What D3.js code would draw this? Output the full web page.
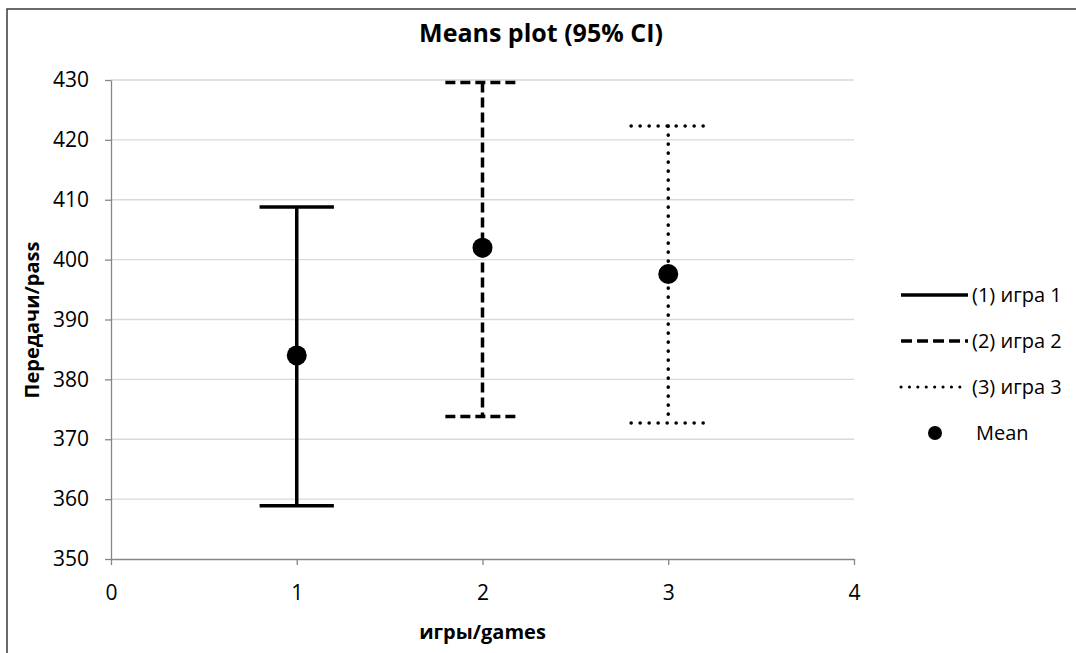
<!DOCTYPE html>
<html>
<head>
<meta charset="utf-8">
<script src="https://cdn.jsdelivr.net/npm/d3@7"></script>
<style>
  body { margin: 0; background: #fff; }
  svg text { font-family: "Open Sans", "Noto Sans", sans-serif; fill: #000; }
</style>
</head>
<body>
<svg id="chart" width="1076" height="653"></svg>
<script>
// means plot data
const games = [1, 2, 3];
const gameNames = ["(1) игра 1", "(2) игра 2", "(3) игра 3"];
const means = [384.0, 402.0, 397.6];
const lowerCI = [358.9, 373.8, 372.7];
const upperCI = [408.8, 429.6, 422.3];
const yTicks = [350, 360, 370, 380, 390, 400, 410, 420, 430];
const xTicks = [0, 1, 2, 3, 4];
const dashes = [null, "10,5", "0.1,8.9"];

var svg = d3.select('#chart');

// outer frame
svg.append('rect')
  .attr('x', 7).attr('y', 9)
  .attr('width', 1090).attr('height', 660)
  .attr('fill', '#fff')
  .attr('stroke', '#3a3a3a')
  .attr('stroke-width', 1.5);

var x = d3.scaleLinear().domain([0, 4]).range([111, 854]);
var y = d3.scaleLinear().domain([350, 430]).range([559, 80]);

// gridlines
svg.append('g')
  .selectAll('line')
  .data(yTicks.slice(1))
  .enter().append('line')
  .attr('x1', x(0)).attr('x2', x(4))
  .attr('y1', d => y(d)).attr('y2', d => y(d))
  .attr('stroke', '#d9d9d9')
  .attr('stroke-width', 1.3);

// axes
var yAxis = svg.append('g')
  .attr('transform', 'translate(' + x(0) + ',0)')
  .call(d3.axisLeft(y).tickValues(yTicks).tickFormat(d3.format('d')).tickSize(6).tickPadding(16).tickSizeOuter(0));
var xAxis = svg.append('g')
  .attr('transform', 'translate(0,' + y(350) + ')')
  .call(d3.axisBottom(x).tickValues(xTicks).tickFormat(d3.format('d')).tickSize(6).tickPadding(20).tickSizeOuter(0));

[yAxis, xAxis].forEach(function(a){
  a.select('.domain').attr('stroke', '#868686').attr('stroke-width', 1.3);
  a.selectAll('.tick line').attr('stroke', '#868686').attr('stroke-width', 1.3);
  a.selectAll('.tick text')
    .attr('font-size', 21)
    .attr('font-family', '"Open Sans", sans-serif')
    .attr('fill', '#222');
});

// error bars
var capHalf = 0.2;
var bars = svg.append('g');
games.forEach(function(g, i){
  var grp = bars.append('g')
    .attr('stroke', '#000')
    .attr('stroke-width', 3.5)
    .attr('fill', 'none');
  if (dashes[i]) grp.attr('stroke-dasharray', dashes[i]);
  if (i == 2) grp.attr('stroke-linecap', 'round');
  grp.append('line')
    .attr('x1', x(g)).attr('x2', x(g))
    .attr('y1', y(upperCI[i])).attr('y2', y(lowerCI[i]));
  grp.append('line')
    .attr('x1', x(g - capHalf)).attr('x2', x(g + capHalf))
    .attr('y1', y(upperCI[i])).attr('y2', y(upperCI[i]));
  grp.append('line')
    .attr('x1', x(g - capHalf)).attr('x2', x(g + capHalf))
    .attr('y1', y(lowerCI[i])).attr('y2', y(lowerCI[i]));
});

// means
svg.append('g')
  .selectAll('circle')
  .data(games)
  .enter().append('circle')
  .attr('cx', d => x(d))
  .attr('cy', (d, i) => y(means[i]))
  .attr('r', 10)
  .attr('fill', '#000');

// title
svg.append('text')
  .attr('x', 541).attr('y', 42)
  .attr('text-anchor', 'middle')
  .attr('font-size', 25)
  .attr('font-weight', 'bold')
  .text('Means plot (95% CI)');

// axis titles
svg.append('text')
  .attr('x', x(2)).attr('y', 639)
  .attr('text-anchor', 'middle')
  .attr('font-size', 20)
  .attr('font-weight', 'bold')
  .text('игры/games');

svg.append('text')
  .attr('transform', 'translate(39,' + 320 + ') rotate(-90)')
  .attr('text-anchor', 'middle')
  .attr('font-size', 20)
  .attr('font-weight', 'bold')
  .text('Передачи/pass');

// legend
var legend = svg.append('g');
var legY = [295, 341, 387, 433];
gameNames.forEach(function(name, i){
  var ln = legend.append('line')
    .attr('x1', 901).attr('x2', 968)
    .attr('y1', legY[i]).attr('y2', legY[i])
    .attr('stroke', '#000')
    .attr('stroke-width', 3.5);
  if (i == 1) ln.attr('stroke-dasharray', '11,5');
  if (i == 2) ln.attr('stroke-dasharray', '0.1,8.3').attr('stroke-linecap', 'round').attr('stroke-width', 3);
  legend.append('text')
    .attr('x', 972).attr('y', legY[i])
    .attr('dy', '0.35em')
    .attr('font-size', 20)
    .text(name);
});
legend.append('circle')
  .attr('cx', 935).attr('cy', legY[3])
  .attr('r', 7)
  .attr('fill', '#000');
legend.append('text')
  .attr('x', 976).attr('y', legY[3])
  .attr('dy', '0.35em')
  .attr('font-size', 20)
  .text('Mean');
</script>
</body>
</html>
